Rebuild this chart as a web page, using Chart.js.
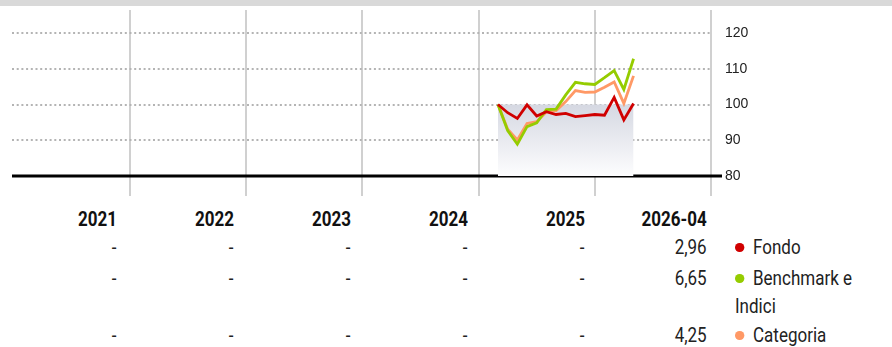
<!DOCTYPE html>
<html lang="it">
<head>
  <meta charset="UTF-8" />
  <title>Performance</title>
  <style>
    body {
      margin: 0;
      background: #fff;
      width: 892px;
      height: 347px;
      position: relative;
      overflow: hidden;
      font-family: Roboto, 'Liberation Sans', sans-serif;
    }
    .topbar {
      position: absolute;
      left: 0; top: 0;
      width: 892px; height: 6px;
      background: #d9d9d9;
    }
    #perfChart {
      position: absolute;
      left: 0; top: 0;
    }
    .row {
      position: absolute;
      left: 0;
      width: 892px;
      height: 28px;
      line-height: 28px;
      font-size: 20px;
      color: #222;
      white-space: nowrap;
    }
    .row.years {
      font-weight: bold;
      color: #111;
    }
    .cell {
      position: absolute;
      top: 0;
      text-align: right;
    }
    /* narrow the type to a condensed look */
    .cell span {
      display: inline-block;
      transform: scaleX(0.85);
      transform-origin: right center;
    }
    .legend {
      position: absolute;
      left: 735px;
      top: 0;
      width: 147px;
      white-space: normal;
      text-align: left;
      transform: scaleX(0.85);
      transform-origin: left top;
    }
    .dot {
      display: inline-block;
      width: 10.5px; height: 9px;
      border-radius: 50%;
      margin: 0 10.7px 3px 0;
      vertical-align: middle;
    }
  </style>
</head>
<body>
  <div class="topbar"></div>
  <canvas id="perfChart" width="892" height="200"></canvas>
  <div id="table"></div>

  <script src="https://cdn.jsdelivr.net/npm/chart.js"></script>
  <script>
    // monthly values, base 100
    const months = ['2025-02', '2025-03', '2025-04', '2025-05', '2025-06', '2025-07', '2025-08', '2025-09',
                    '2025-10', '2025-11', '2025-12', '2026-01', '2026-02', '2026-03', '2026-04'];
    const fondo = [100, 97.7, 96.1, 99.9, 96.8, 98.0, 97.2, 97.5, 96.6, 96.9, 97.2, 97.0, 102.0, 95.7, 100.3];
    const benchmark = [100, 92.7, 88.9, 93.8, 94.9, 98.6, 98.7, 102.7, 106.2, 105.8, 105.6, 107.5, 109.5, 104.2, 112.8];
    const categoria = [100, 93.1, 90.1, 94.7, 95.2, 98.0, 98.3, 100.8, 103.9, 103.4, 103.5, 104.8, 106.3, 100.3, 108.0];
    const base = [100, 100, 100, 100, 100, 100, 100, 100, 100, 100, 100, 100, 100, 100, 100];

    const yTicks = [80, 90, 100, 110, 120];
    const yearBreaks = [12, 24, 36, 48, 60, 72]; // month index of each year end

    // table under the chart
    const years = ['2021', '2022', '2023', '2024', '2025', '2026-04'];
    const fondoRet = ['-', '-', '-', '-', '-', '2,96'];
    const benchRet = ['-', '-', '-', '-', '-', '6,65'];
    const catRet = ['-', '-', '-', '-', '-', '4,25'];

    const RED = '#d00000';
    const GREEN = '#95cc00';
    const ORANGE = '#ff9966';

    // months since start of 2021, at month end
    function monthIndex(s) {
      const [y, m] = s.split('-').map(Number);
      return (y - 2021) * 12 + m;
    }
    const xs = months.map(monthIndex);
    const pts = arr => arr.map((v, i) => ({ x: xs[i], y: v }));

    const baseLine = {
      id: 'baseLine',
      beforeDatasetsDraw(chart) {
        const { ctx, chartArea, scales } = chart;
        const y = scales.y.getPixelForValue(80);
        ctx.save();
        ctx.strokeStyle = '#000';
        ctx.lineWidth = 3;
        ctx.beginPath();
        ctx.moveTo(chartArea.left, y);
        ctx.lineTo(chartArea.right + 11, y);
        ctx.stroke();
        ctx.restore();
      }
    };

    function shade(context) {
      const { chart } = context;
      const { ctx, chartArea, scales } = chart;
      if (!chartArea) return 'rgba(0,0,0,0)';
      const g = ctx.createLinearGradient(0, scales.y.getPixelForValue(100), 0, scales.y.getPixelForValue(80));
      g.addColorStop(0, '#d5d8e2');
      g.addColorStop(1, '#fdfdfe');
      return g;
    }

    const lineDs = (label, data, color) => ({
      label, data: pts(data), borderColor: color, borderWidth: 2.8,
      pointRadius: 0, tension: 0, fill: false
    });

    new Chart(document.getElementById('perfChart'), {
      type: 'line',
      data: {
        datasets: [
          lineDs('Fondo', fondo, RED),
          lineDs('Benchmark e Indici', benchmark, GREEN),
          lineDs('Categoria', categoria, ORANGE),
          {
            label: 'base', data: pts(base), borderWidth: 0, pointRadius: 0,
            backgroundColor: shade, fill: { value: 80 }
          }
        ]
      },
      options: {
        responsive: false,
        animation: false,
        devicePixelRatio: 1,
        layout: { padding: { top: 10, bottom: 4, left: 12, right: 0 } },
        plugins: { legend: { display: false }, tooltip: { enabled: false } },
        scales: {
          x: {
            type: 'linear',
            min: -0.19,
            max: 72,
            afterBuildTicks: s => { s.ticks = yearBreaks.map(v => ({ value: v })); },
            afterFit: s => { s.height = 0; s.paddingLeft = 0; s.paddingRight = 0; },
            ticks: { display: false },
            border: { display: false },
            grid: { color: '#d0d0d0', lineWidth: 2, drawTicks: false }
          },
          y: {
            position: 'right',
            min: 74.41,
            max: 126.43,
            afterBuildTicks: s => { s.ticks = yTicks.map(v => ({ value: v })); },
            afterFit: s => { s.width = 892 - 711; s.paddingTop = 0; s.paddingBottom = 0; },
            border: { display: false, dash: [2, 2.7] },
            grid: {
              drawTicks: false,
              lineWidth: 2,
              color: c => c.tick && c.tick.value === 80 ? 'rgba(0,0,0,0)' : '#b4b4b4'
            },
            ticks: {
              padding: 14,
              color: '#222',
              font: { family: "'Liberation Sans', Arial, sans-serif", size: 14 }
            }
          }
        }
      },
      plugins: [baseLine]
    });

    // build the returns table
    const rights = [117, 234, 351, 468, 585, 707];
    const table = document.getElementById('table');
    function addRow(top, values, cls, legend) {
      const row = document.createElement('div');
      row.className = 'row' + (cls ? ' ' + cls : '');
      row.style.top = top + 'px';
      values.forEach((v, i) => {
        const cell = document.createElement('div');
        cell.className = 'cell';
        const left = i === 0 ? 0 : rights[i - 1];
        cell.style.left = left + 'px';
        cell.style.width = (rights[i] - left) + 'px';
        const span = document.createElement('span');
        span.textContent = v;
        cell.appendChild(span);
        row.appendChild(cell);
      });
      if (legend) {
        const lg = document.createElement('div');
        lg.className = 'legend';
        const dot = document.createElement('span');
        dot.className = 'dot';
        dot.style.background = legend.color;
        lg.appendChild(dot);
        lg.appendChild(document.createTextNode(legend.label));
        row.appendChild(lg);
      }
      table.appendChild(row);
    }
    addRow(205, years, 'years');
    addRow(233, fondoRet, '', { label: 'Fondo', color: RED });
    addRow(264, benchRet, '', { label: 'Benchmark e Indici', color: GREEN });
    addRow(321, catRet, '', { label: 'Categoria', color: ORANGE });
  </script>
</body>
</html>
